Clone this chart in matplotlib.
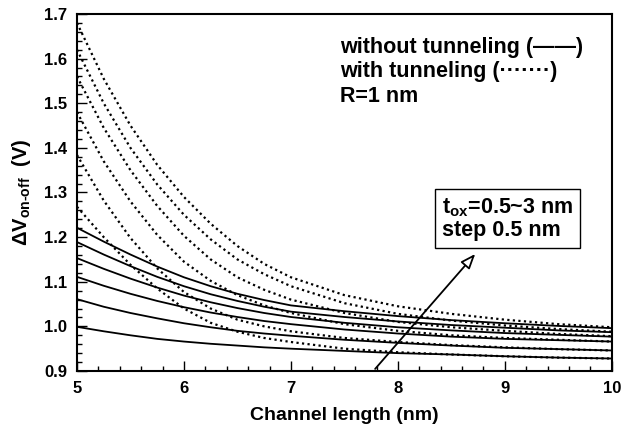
import matplotlib
matplotlib.use("Agg")
import matplotlib.pyplot as plt
from matplotlib.ticker import MultipleLocator, FormatStrFormatter

plt.rcParams["font.family"] = ["Liberation Sans", "DejaVu Sans"]
plt.rcParams["font.weight"] = "bold"
plt.rcParams["mathtext.fontset"] = "custom"
plt.rcParams["mathtext.rm"] = "Liberation Sans:bold"
plt.rcParams["mathtext.it"] = "Liberation Sans:bold"
plt.rcParams["mathtext.bf"] = "Liberation Sans:bold"
plt.rcParams["mathtext.default"] = "rm"

# channel length (nm)
length = [5, 5.25, 5.5, 5.75, 6, 6.25, 6.5, 6.75, 7, 7.5, 8, 8.5, 9, 9.5, 10]

# without tunneling, tox = 0.5 ... 3 nm (bottom to top)
no_tunnel = [
    [0.999, 0.989, 0.980, 0.972, 0.966, 0.961, 0.957, 0.953, 0.950, 0.945, 0.940, 0.937, 0.933, 0.930, 0.928],
    [1.061, 1.044, 1.030, 1.018, 1.007, 0.998, 0.990, 0.984, 0.979, 0.970, 0.963, 0.957, 0.952, 0.949, 0.946],
    [1.111, 1.091, 1.073, 1.057, 1.043, 1.031, 1.021, 1.012, 1.005, 0.993, 0.984, 0.977, 0.972, 0.969, 0.966],
    [1.153, 1.129, 1.107, 1.087, 1.069, 1.054, 1.041, 1.030, 1.021, 1.008, 0.998, 0.991, 0.985, 0.981, 0.977],
    [1.189, 1.161, 1.135, 1.111, 1.090, 1.072, 1.057, 1.044, 1.033, 1.021, 1.011, 1.003, 0.997, 0.991, 0.987],
    [1.221, 1.190, 1.161, 1.134, 1.110, 1.090, 1.073, 1.059, 1.047, 1.034, 1.023, 1.014, 1.007, 1.001, 0.996],
]

# with tunneling
with_tunnel = [
    [1.268, 1.200, 1.138, 1.085, 1.040, 1.008, 0.988, 0.974, 0.965, 0.950, 0.942, 0.937, 0.933, 0.930, 0.928],
    [1.384, 1.282, 1.198, 1.130, 1.077, 1.040, 1.015, 1.000, 0.989, 0.974, 0.965, 0.958, 0.953, 0.949, 0.946],
    [1.480, 1.370, 1.280, 1.205, 1.145, 1.102, 1.070, 1.047, 1.030, 1.005, 0.990, 0.980, 0.974, 0.970, 0.966],
    [1.560, 1.445, 1.350, 1.270, 1.203, 1.150, 1.110, 1.082, 1.060, 1.030, 1.010, 0.998, 0.990, 0.983, 0.978],
    [1.620, 1.500, 1.400, 1.318, 1.250, 1.195, 1.150, 1.117, 1.090, 1.052, 1.028, 1.013, 1.002, 0.994, 0.988],
    [1.680, 1.555, 1.450, 1.362, 1.290, 1.230, 1.180, 1.140, 1.110, 1.070, 1.045, 1.028, 1.015, 1.005, 0.998],
]

fig = plt.figure(figsize=(6.33, 4.32), dpi=100)
ax = fig.add_axes([0.1216, 0.1412, 0.845, 0.8264])

for ys in no_tunnel:
    ax.plot(length, ys, color="black", lw=1.3, ls="-")
for ys in with_tunnel:
    ax.plot(length, ys, color="black", lw=1.6, ls=(0, (1, 1.5)))

ax.set_xlim(5, 10)
ax.set_ylim(0.9, 1.7)
ax.xaxis.set_major_locator(MultipleLocator(1))
ax.xaxis.set_minor_locator(MultipleLocator(0.2))
ax.yaxis.set_major_locator(MultipleLocator(0.1))
ax.yaxis.set_minor_locator(MultipleLocator(0.02))
ax.yaxis.set_major_formatter(FormatStrFormatter("%.1f"))
ax.tick_params(which="both", direction="in", top=False, right=False, labelsize=12, width=1)
ax.tick_params(which="major", length=7, pad=7)
ax.tick_params(which="minor", length=3.5)
for s in ax.spines.values():
    s.set_linewidth(1.5)

ax.set_xlabel("Channel length (nm)", fontsize=14, fontweight="bold", labelpad=8)
ax.set_ylabel(r"ΔV$_{\text{on-off}}$  (V)", fontsize=14.5, fontweight="bold", labelpad=8)

ax.text(0.4916, 0.891, "without tunneling (——)", transform=ax.transAxes, fontsize=15.5, fontweight="bold")
ax.text(0.4916, 0.824, "with tunneling (·······)", transform=ax.transAxes, fontsize=15.5, fontweight="bold")
ax.text(0.4916, 0.754, "R=1 nm", transform=ax.transAxes, fontsize=15.5, fontweight="bold")

ax.text(8.41, 1.241, "t$_{ox}$=0.5~3 nm\nstep 0.5 nm", fontsize=15.5, fontweight="bold",
        va="center", ha="left", linespacing=1.1,
        bbox=dict(boxstyle="square,pad=0.3", fc="white", ec="black", lw=1))
ax.annotate("", xy=(8.74, 1.167), xytext=(7.77, 0.9),
            arrowprops=dict(arrowstyle="-|>,head_length=0.9,head_width=0.35",
                            fc="white", ec="black", lw=1.3))

fig.savefig("out.png", dpi=100)
